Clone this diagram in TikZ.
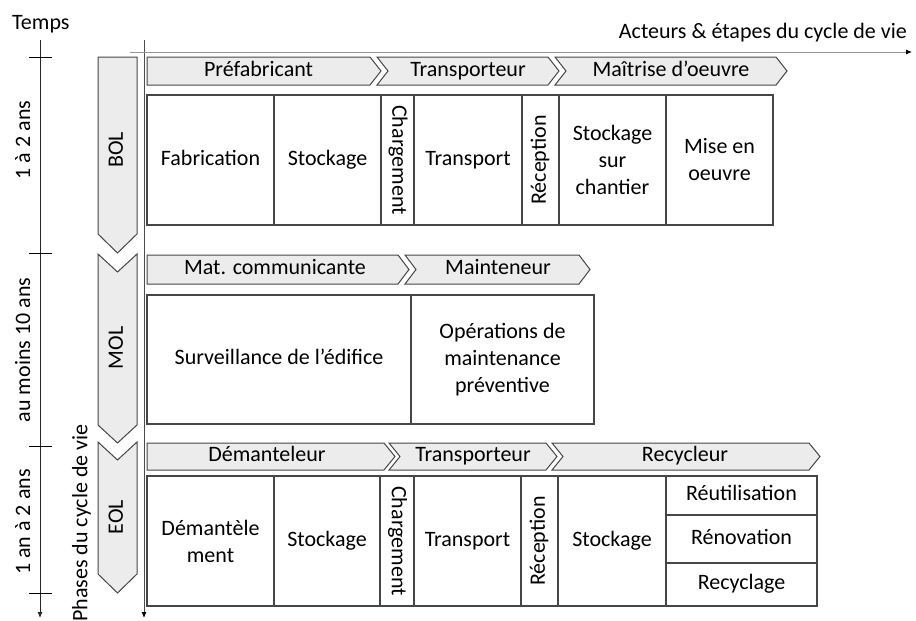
\documentclass[tikz,border=0pt]{standalone}
\usepackage{fontspec}
\setmainfont{Carlito}
\usepackage{tikz}
\usetikzlibrary{arrows.meta}
\definecolor{ChevGray}{RGB}{236,236,236}
\definecolor{EdgeGray}{RGB}{70,70,70}
\definecolor{AxisGray}{RGB}{150,150,150}
\tikzset{
  txt/.style={inner sep=0pt,font=\fontsize{22}{27}\selectfont,text height=15pt,text depth=4.5pt},
  multi/.style={inner sep=0pt,font=\fontsize{22}{27}\selectfont,align=center},
  cell/.style={txt,draw=EdgeGray,fill=white,line width=1.2pt},
  mcell/.style={multi,draw=EdgeGray,fill=white,line width=1.2pt},
  actchev/.style={draw=EdgeGray,fill=ChevGray,line width=1pt,line join=miter},
  phasechev/.style={draw=EdgeGray,fill=ChevGray,line width=1pt,line join=miter},
  timeaxis/.style={draw=black!85,line width=0.9pt,-{Latex[length=6pt,width=5pt]}},
  lifeaxis/.style={draw=AxisGray,line width=0.9pt,-{Latex[length=6pt,width=5pt,fill=black,color=black]}},
}

\begin{document}
\begin{tikzpicture}[x=1pt,y=-1pt]
  \useasboundingbox (0,0) rectangle (916,621);

  % axes
  \coordinate (t0) at (40,40);
  \coordinate (t1) at (40,618);
  \coordinate (v0) at (144,40);
  \coordinate (v1) at (144,618);
  \coordinate (h0) at (130,52);
  \coordinate (h1) at (912,52);
  \draw[timeaxis] (t0) -- (t1);
  \draw[lifeaxis,draw=black!70] (v0) -- (v1);
  \draw[lifeaxis] (h0) -- (h1);
  \foreach \y in {57,253,446,593}
    \draw[line width=0.9pt] (29,\y) -- (52,\y);

  \node[txt,anchor=base west] (temps) at (12,29.5) {Temps};
  \node[txt,anchor=base east] (acteurs) at (907,38) {Acteurs \& étapes du cycle de vie};
  \node[txt,rotate=90] (dur1) at (25,140) {1 à 2 ans};
  \node[txt,rotate=90] (dur2) at (25,350) {au moins 10 ans};
  \node[txt,rotate=90] (dur3) at (25,522) {1 an à 2 ans};
  \node[txt,rotate=90] (phases) at (82,523) {Phases du cycle de vie};

  % phases
  \draw[phasechev] (98,57) -- (137,57) -- (137,234) -- (117.5,253) -- (98,234) -- cycle;
  \draw[phasechev] (98,254) -- (117.5,272) -- (137,254) -- (137,425) -- (117.5,443) -- (98,425) -- cycle;
  \draw[phasechev] (98,442) -- (117.5,460) -- (137,442) -- (137,574) -- (117.5,593) -- (98,574) -- cycle;
  \node[txt,rotate=90] (bol) at (117.5,150) {BOL};
  \node[txt,rotate=90] (mol) at (117.5,348) {MOL};
  \node[txt,rotate=90] (eol) at (117.5,517) {EOL};

  % acteurs BOL
  \draw[actchev] (147,57) -- (370,57) -- (381,71) -- (370,85) -- (147,85) -- cycle;
  \draw[actchev] (377,57) -- (548,57) -- (559,71) -- (548,85) -- (377,85) -- (388,71) -- cycle;
  \draw[actchev] (555,57) -- (776,57) -- (787,71) -- (776,85) -- (555,85) -- (566,71) -- cycle;
  \node[txt] (prefab) at (258.5,71) {Préfabricant};
  \node[txt] (transpA) at (468,71) {Transporteur};
  \node[txt] (moe) at (671,71) {Maîtrise d’oeuvre};

  % etapes BOL
  \node[cell,minimum width=127pt,minimum height=130pt] (fab) at (210.5,160) {Fabrication};
  \node[cell,minimum width=107pt,minimum height=130pt] (stkA) at (327.5,160) {Stockage};
  \node[cell,rotate=-90,minimum width=130pt,minimum height=33pt] (chgA) at (397.5,160) {Chargement};
  \node[cell,minimum width=108pt,minimum height=130pt] (trpA) at (468,160) {Transport};
  \node[cell,rotate=90,minimum width=130pt,minimum height=37pt] (recA) at (540.5,160) {Réception};
  \node[mcell,minimum width=107pt,minimum height=130pt] (stkB) at (612.5,160) {Stockage\\sur\\chantier};
  \node[mcell,minimum width=107pt,minimum height=130pt] (mise) at (719.5,160) {Mise en\\oeuvre};

  % acteurs MOL
  \draw[actchev] (147,255) -- (398,255) -- (409,269.5) -- (398,284) -- (147,284) -- cycle;
  \draw[actchev] (405,255) -- (579,255) -- (590,269.5) -- (579,284) -- (405,284) -- (416,269.5) -- cycle;
  \node[txt] (matcom) at (275,269.5) {Mat. communicante};
  \node[txt] (mainteneur) at (498,269.5) {Mainteneur};

  % etapes MOL
  \node[cell,minimum width=264pt,minimum height=129pt] (surv) at (279,359.5) {Surveillance de l’édifice};
  \node[mcell,minimum width=183pt,minimum height=129pt] (maint) at (502.5,359.5) {Opérations de\\maintenance\\préventive};

  % acteurs EOL
  \draw[actchev] (147,443) -- (384,443) -- (395,456.5) -- (384,470) -- (147,470) -- cycle;
  \draw[actchev] (389,443) -- (546,443) -- (557,456.5) -- (546,470) -- (389,470) -- (400,456.5) -- cycle;
  \draw[actchev] (552,443) -- (809,443) -- (820,456.5) -- (809,470) -- (552,470) -- (563,456.5) -- cycle;
  \node[txt] (demant) at (267,456.5) {Démanteleur};
  \node[txt] (transpC) at (473,456.5) {Transporteur};
  \node[txt] (recycleur) at (685,456.5) {Recycleur};

  % etapes EOL
  \node[mcell,minimum width=127pt,minimum height=130pt] (dem) at (210.5,541) {Démantèle\\ment};
  \node[cell,minimum width=106pt,minimum height=130pt] (stkC) at (327,541) {Stockage};
  \node[cell,rotate=-90,minimum width=130pt,minimum height=34pt] (chgC) at (397,541) {Chargement};
  \node[cell,minimum width=107pt,minimum height=130pt] (trpC) at (467.5,541) {Transport};
  \node[cell,rotate=90,minimum width=130pt,minimum height=37pt] (recC) at (539.5,541) {Réception};
  \node[cell,minimum width=108pt,minimum height=130pt] (stkD) at (612,541) {Stockage};
  \node[cell,minimum width=151pt,minimum height=39pt] (reut) at (741.5,495.5) {Réutilisation};
  \node[cell,minimum width=151pt,minimum height=48pt] (reno) at (741.5,539) {Rénovation};
  \node[cell,minimum width=151pt,minimum height=43pt] (recy) at (741.5,584.5) {Recyclage};
\end{tikzpicture}
\end{document}
